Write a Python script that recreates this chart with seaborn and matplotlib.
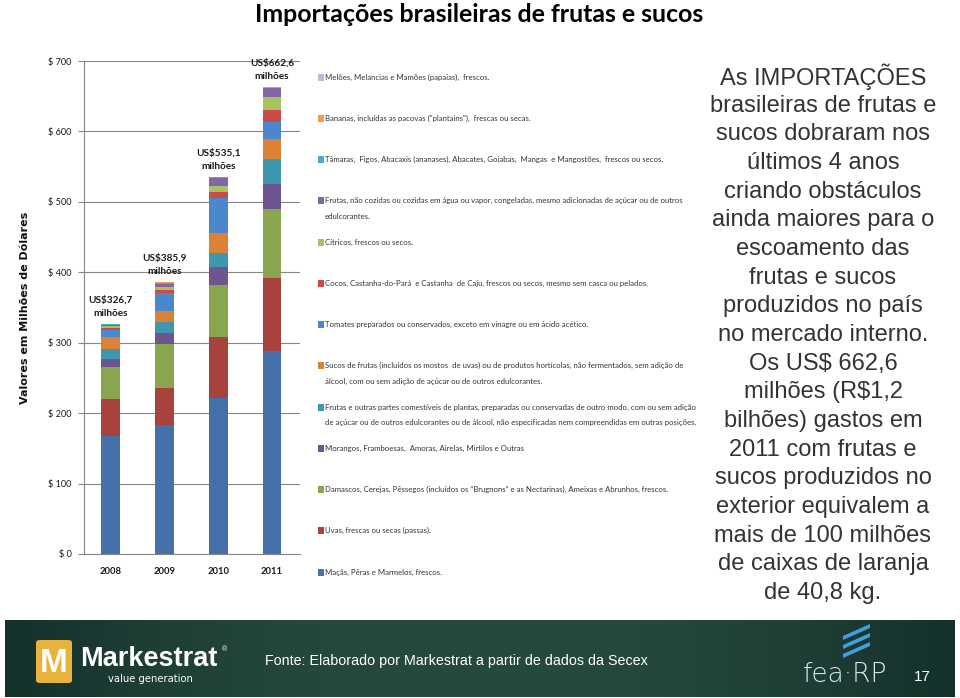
import numpy as np
import pandas as pd
import matplotlib
matplotlib.use("Agg")
import matplotlib.pyplot as plt
from matplotlib.patches import Rectangle, FancyBboxPatch, Polygon
import seaborn as sns

# ---------------- data ----------------
years = ["2008", "2009", "2010", "2011"]

series_names = [
    "Maçãs, Pêras e Marmelos, frescos.",
    "Uvas, frescas ou secas (passas).",
    "Damascos, Cerejas, Pêssegos (incluídos os “Brugnons” e as Nectarinas), Ameixas e Abrunhos, frescos.",
    "Morangos, Framboesas,  Amoras, Airelas, Mirtilos e Outras",
    "Frutas e outras partes comestíveis de plantas, preparadas ou conservadas de outro modo, com ou sem adição\n"
    "de açúcar ou de outros edulcorantes ou de álcool, não especificadas nem compreendidas em outras posições.",
    "Sucos de frutas (incluídos os mostos  de uvas) ou de produtos hortícolas, não fermentados, sem adição de\n"
    "álcool, com ou sem adição de açúcar ou de outros edulcorantes.",
    "Tomates preparados ou conservados, exceto em vinagre ou em ácido acético.",
    "Cocos, Castanha-do-Pará  e Castanha  de Caju, frescos ou secos, mesmo sem casca ou pelados.",
    "Cítricos, frescos ou secos.",
    "Frutas, não cozidas ou cozidas em água ou vapor, congeladas, mesmo adicionadas de açúcar ou de outros\n"
    "edulcorantes.",
    "Tâmaras,  Figos, Abacaxis (ananases), Abacates, Goiabas,  Mangas  e Mangostões,  frescos ou secos.",
    "Bananas, incluídas as pacovas (\"plantains\"),  frescas ou secas.",
    "Melões, Melancias e Mamões (papaias),  frescos.",
]

macas = [168.0, 183.6, 222.0, 288.0]
uvas = [52.0, 52.0, 86.0, 103.5]
damascos = [46.0, 62.8, 74.0, 99.0]
morangos = [10.5, 15.4, 25.0, 35.5]
frutas_outras = [15.0, 15.0, 20.0, 34.5]
sucos = [16.0, 15.9, 29.0, 28.5]
tomates = [10.0, 25.3, 49.0, 24.5]
cocos = [3.5, 4.7, 8.5, 17.5]
citricos = [2.5, 3.8, 8.5, 18.0]
frutas_cong = [2.0, 5.5, 12.5, 13.0]
tamaras = [0.6, 1.0, 0.3, 0.3]
bananas = [0.4, 0.5, 0.2, 0.2]
meloes = [0.2, 0.4, 0.1, 0.1]

series_values = [macas, uvas, damascos, morangos, frutas_outras, sucos, tomates,
                 cocos, citricos, frutas_cong, tamaras, bananas, meloes]

colors = ["#4571AB", "#A9423F", "#89A54E", "#6E5491", "#3F97AE", "#DB8236", "#4A87CC",
          "#CC4B48", "#A3C45F", "#8266A8", "#4BACC6", "#F59A4D", "#B3BEDC"]

y_ticks = [0, 100, 200, 300, 400, 500, 600, 700]
y_tick_labels = ["$ 0", "$ 100", "$ 200", "$ 300", "$ 400", "$ 500", "$ 600", "$ 700"]

title = "Importações brasileiras de frutas e sucos"
ylabel = "Valores em Milhões de Dólares"
side_text = [
    "As IMPORTAÇÕES", "brasileiras de frutas e", "sucos dobraram nos", "últimos 4 anos",
    "criando obstáculos", "ainda maiores para o", "escoamento das", "frutas e sucos",
    "produzidos no país", "no mercado interno.", "Os US$ 662,6", "milhões (R$1,2",
    "bilhões) gastos em", "2011 com frutas e", "sucos produzidos no", "exterior equivalem a",
    "mais de 100 milhões", "de caixas de laranja", "de 40,8 kg.",
]
source = "Fonte: Elaborado por Markestrat a partir de dados da Secex"
page_num = "17"

# ---------------- style ----------------
sns.set_style("white")
SANS = ["Liberation Sans", "DejaVu Sans"]
CAL = ["Lato", "DejaVu Sans"]
plt.rcParams["font.family"] = SANS

W, H = 960, 698
fig = plt.figure(figsize=(W / 100, H / 100), dpi=100)
fig.patch.set_facecolor("white")


def fx(px):
    return px / W


def fy(py):
    return 1 - py / H


# ---------------- chart ----------------
ax_left, ax_right, ax_top, ax_bot = 84, 300, 61, 554
ax = fig.add_axes([fx(ax_left), fy(ax_bot), fx(ax_right) - fx(ax_left), (ax_bot - ax_top) / H])
ax.set_facecolor("white")

vals = np.array(series_values)
cum = np.cumsum(vals, axis=0)
for i in range(len(series_values) - 1, -1, -1):
    df = pd.DataFrame({"year": years, "v": cum[i]})
    sns.barplot(data=df, x="year", y="v", order=years, color=colors[i], saturation=1,
                width=0.35, linewidth=0, edgecolor="none", errorbar=None, ax=ax, zorder=3)

ax.set_ylim(0, 700)
ax.set_xlim(-0.48, 3.52)
ax.set_yticks(y_ticks)
ax.set_yticklabels(y_tick_labels, fontsize=6.6, color="#1a1a1a", family=CAL)
ax.set_xticks(range(len(years)))
ax.set_xticklabels(years, fontsize=6.8, fontweight="bold", color="#1a1a1a", family=CAL)
ax.set_xticks([-0.5 + k for k in range(len(years) + 1)], minor=True)
ax.tick_params(axis="x", which="major", length=0, pad=9)
ax.tick_params(axis="x", which="minor", length=4, color="#868686", width=0.8, direction="out")
ax.tick_params(axis="y", which="major", length=4, color="#868686", width=0.8, direction="out", pad=5, left=True)
ax.grid(axis="y", color="#868686", linewidth=0.8, zorder=0)
ax.set_axisbelow(True)
for s in ["top", "right"]:
    ax.spines[s].set_visible(False)
for s in ["left", "bottom"]:
    ax.spines[s].set_color("#868686")
    ax.spines[s].set_linewidth(0.8)
ax.set_xlabel("")
ax.set_ylabel(ylabel, fontsize=8, fontweight="bold", family=["DejaVu Sans"], color="#111111")
ax.yaxis.set_label_coords(-0.25, 0.5)

totals = cum[-1]
for k, t in enumerate(totals):
    lab = "US$" + f"{t:.1f}".replace(".", ",") + "\nmilhões"
    ax.text(k, t + 9, lab, ha="center", va="bottom", fontsize=7.2, fontweight="bold",
            color="#1a1a1a", linespacing=1.6, clip_on=False, family=CAL)

# ---------------- legend (manual, PowerPoint-like spacing) ----------------
leg_x_box, leg_x_text = 318, 325
for j, idx in enumerate(range(len(series_names) - 1, -1, -1)):
    y0 = 77 + 41.25 * j
    fig.patches.append(Rectangle((fx(leg_x_box), fy(y0 + 3.5)), 6 / W, 7 / H,
                                 transform=fig.transFigure, facecolor=colors[idx],
                                 edgecolor="none"))
    for li, line in enumerate(series_names[idx].split("\n")):
        fig.text(fx(leg_x_text), fy(y0 + 15.5 * li), line, ha="left", va="center",
                 fontsize=5.6, color="#333333", family=CAL)

# ---------------- title ----------------
fig.text(fx(479), fy(14), title, ha="center", va="center", fontsize=17.9,
         fontweight="bold", family=CAL, color="black")

# ---------------- side text ----------------
for i, line in enumerate(side_text):
    fig.text(fx(823), fy(77 + 28.67 * i), line, ha="center", va="center", fontsize=17,
             family=SANS, color="#333333")

# ---------------- footer band ----------------
fax = fig.add_axes([fx(5), fy(697), fx(955) - fx(5), (697 - 620) / H])
xs = np.linspace(-1, 1, 300)
grad = 1 - xs ** 2
c_edge = np.array([0x14, 0x30, 0x2A]) / 255
c_mid = np.array([0x27, 0x4A, 0x40]) / 255
img = c_edge[None, None, :] + (c_mid - c_edge)[None, None, :] * grad[None, :, None]
img = np.repeat(img, 10, axis=0)
fax.imshow(img, aspect="auto", extent=[0, 1, 0, 1])
fax.set_axis_off()

# Markestrat logo
fig.patches.append(FancyBboxPatch((fx(36), fy(683)), 36 / W, 43 / H,
                                  boxstyle="round,pad=0,rounding_size=0.004",
                                  transform=fig.transFigure, facecolor="#E8B33C",
                                  edgecolor="none", zorder=5))
fig.text(fx(54), fy(663), "M", ha="center", va="center", fontsize=24, fontweight="bold",
         family=SANS, color="white", zorder=6)
fig.text(fx(80), fy(659), "Markestrat", ha="left", va="center", fontsize=19.5, fontweight="bold",
         family=SANS, color="white")
fig.text(fx(222), fy(650), "®", ha="left", va="center", fontsize=5, color="white")
fig.text(fx(108), fy(679), "value generation", ha="left", va="center", fontsize=7.2,
         family=["DejaVu Sans"], color="white")

fig.text(fx(265), fy(661), source, ha="left", va="center", fontsize=10.3,
         family=SANS, color="white")

# fea-RP logo
for k in range(3):
    yb = 658 - k * 9
    pts = [(fx(843), fy(yb)), (fx(870), fy(yb - 12)), (fx(870), fy(yb - 16)), (fx(843), fy(yb - 4))]
    fig.patches.append(Polygon(pts, closed=True, transform=fig.transFigure,
                               facecolor="#3FA0DC", edgecolor="none", zorder=5))
fig.text(fx(803), fy(675), "fea·RP", ha="left", va="center", fontsize=19,
         family=["DejaVu Sans"], color="#dbe8ee", fontweight="light")
fig.text(fx(922), fy(677), page_num, ha="center", va="center", fontsize=11,
         family=SANS, color="white")

fig.savefig("out.png", dpi=100, facecolor="white")
